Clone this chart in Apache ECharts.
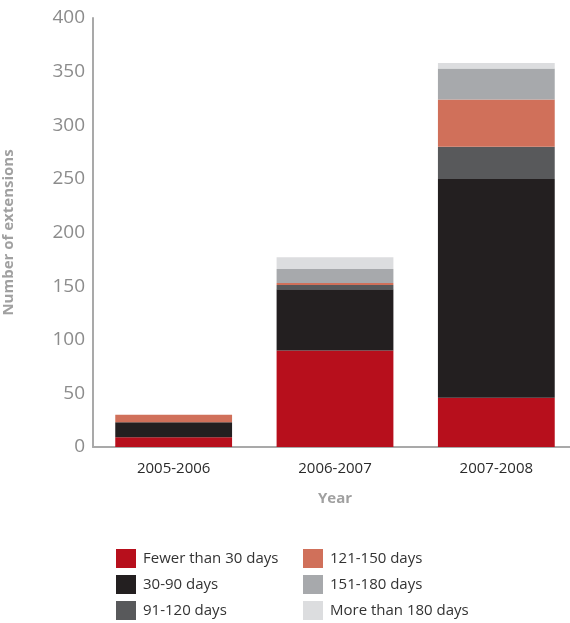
<!DOCTYPE html>
<html>
<head>
<meta charset="utf-8">
<script src="https://cdn.jsdelivr.net/npm/echarts@6/dist/echarts.min.js"></script>
<style>
  html, body { margin: 0; padding: 0; background: #ffffff; }
  #chart { width: 570px; height: 623px; }
</style>
</head>
<body>
<div id="chart"></div>
<script>
// Extension counts per year, split by duration band
const years = ['2005-2006', '2006-2007', '2007-2008'];
const bandNames = ['Fewer than 30 days', '30-90 days', '91-120 days', '121-150 days', '151-180 days', 'More than 180 days'];
const fewerThan30 = [9, 90, 46];
const days30to90 = [14, 57, 204];
const days91to120 = [0, 4, 30];
const days121to150 = [7, 2, 44];
const days151to180 = [0, 13, 29];
const moreThan180 = [0, 11, 5];
const yTicks = [0, 50, 100, 150, 200, 250, 300, 350, 400];

const bandValues = [fewerThan30, days30to90, days91to120, days121to150, days151to180, moreThan180];
const bandColors = ['#b70f1c', '#231f20', '#58595b', '#d0705a', '#a7a9ac', '#dcdddf'];

const fontFamily = '"Open Sans", "Noto Sans", sans-serif';

const chart = echarts.init(document.getElementById('chart'), null, { renderer: 'canvas' });

const legendCommon = {
  orient: 'vertical',
  icon: 'rect',
  itemWidth: 20,
  itemHeight: 19,
  itemGap: 7,
  selectedMode: false,
  textStyle: { fontFamily, fontSize: 15, color: '#333333', padding: [0, 0, 0, 2] }
};

chart.setOption({
  animation: false,
  backgroundColor: '#ffffff',
  grid: { left: 93, top: 18, width: 484, height: 429, containLabel: false, outerBoundsMode: 'none' },
  legend: [
    Object.assign({ left: 113, top: 546, padding: 3, data: bandNames.slice(0, 3) }, legendCommon),
    Object.assign({ left: 300, top: 546, padding: 3, data: bandNames.slice(3) }, legendCommon)
  ],
  xAxis: {
    type: 'category',
    data: years,
    name: 'Year',
    nameLocation: 'middle',
    nameGap: 44,
    nameTextStyle: { fontFamily, fontSize: 15, fontWeight: 'bold', color: '#a0a0a0' },
    axisLine: { lineStyle: { color: '#a9a9a9', width: 2 } },
    axisTick: { show: false },
    axisLabel: { fontFamily, fontSize: 15, color: '#2a2a2a', margin: 14 }
  },
  yAxis: {
    type: 'value',
    min: yTicks[0],
    max: yTicks[yTicks.length - 1],
    interval: yTicks[1] - yTicks[0],
    name: 'Number of extensions',
    nameLocation: 'middle',
    nameGap: 77,
    nameRotate: 90,
    nameTextStyle: { fontFamily, fontSize: 15, fontWeight: 'bold', color: '#a0a0a0' },
    axisLine: { show: true, lineStyle: { color: '#a9a9a9', width: 2 } },
    axisTick: { show: false },
    splitLine: { show: false },
    axisLabel: { fontFamily, fontSize: 19, color: '#8c8c8c', margin: 8 }
  },
  series: bandNames.map((name, i) => ({
    name,
    type: 'bar',
    stack: 'total',
    barWidth: '72.4%',
    data: bandValues[i],
    itemStyle: { color: bandColors[i] }
  }))
});
</script>
</body>
</html>
